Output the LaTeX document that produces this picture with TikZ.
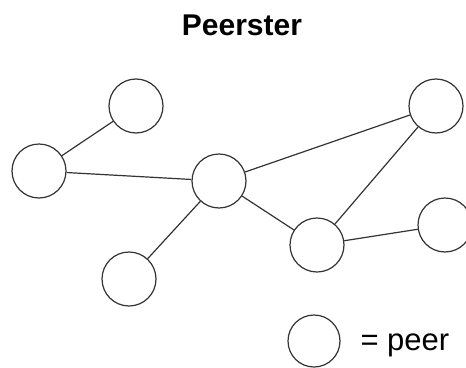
\documentclass[tikz,border=0pt]{standalone}
\usepackage{fontspec}
\setmainfont{Liberation Sans}
\begin{document}
\begin{tikzpicture}[x=1pt,y=-1pt,
  peer/.style={circle,draw=black!80,line width=1.2pt,fill=white,minimum size=54pt,inner sep=0pt},
  link/.style={draw=black!80,line width=1.2pt}]
\useasboundingbox (0,0) rectangle (466,367);
\node[font=\fontsize{30}{36}\selectfont\bfseries,anchor=base] (title) at (242,35) {Peerster};
\node[peer] (a) at (136,106) {};
\node[peer] (b) at (39,171) {};
\node[peer] (c) at (219,181) {};
\node[peer] (d) at (436,106) {};
\node[peer] (e) at (317,245) {};
\node[peer] (f) at (445,225) {};
\node[peer] (g) at (129,279) {};
\draw[link] (a) -- (b);
\draw[link] (b) -- (c);
\draw[link] (c) -- (d);
\draw[link] (c) -- (e);
\draw[link] (c) -- (g);
\draw[link] (d) -- (e);
\draw[link] (e) -- (f);
\node[peer,minimum size=52pt] (key) at (314,341) {};
\node[font=\fontsize{31}{36}\selectfont,anchor=base west] (lbl) at (357,350) {= peer};
\end{tikzpicture}
\end{document}
